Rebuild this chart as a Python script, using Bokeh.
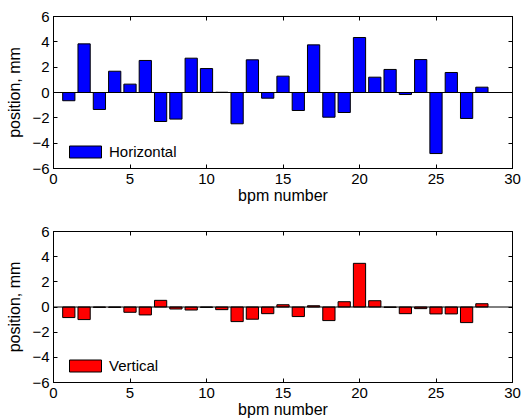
from bokeh.plotting import figure
from bokeh.layouts import column
from bokeh.models import (Range1d, FixedTicker, LinearAxis, Span, Legend, LegendItem,
                          CustomJSTickFormatter, ColumnDataSource)
from bokeh.embed import file_html
from bokeh.resources import INLINE

bpm = list(range(1, 29))
horizontal = [-0.65, 3.84, -1.34, 1.68, 0.66, 2.53, -2.29, -2.10, 2.71, 1.89,
              0.02, -2.47, 2.58, -0.45, 1.29, -1.42, 3.76, -1.95, -1.58, 4.34,
              1.21, 1.82, -0.16, 2.60, -4.82, 1.58, -2.05, 0.42]
vertical = [-0.84, -1.00, -0.03, -0.03, -0.42, -0.63, 0.53, -0.16, -0.24, -0.03,
            -0.21, -1.16, -0.97, -0.53, 0.18, -0.76, 0.10, -1.08, 0.42, 3.47,
            0.50, -0.03, -0.53, -0.13, -0.55, -0.55, -1.24, 0.26]
x_ticks = [0, 5, 10, 15, 20, 25, 30]
y_ticks = [-6, -4, -2, 0, 2, 4, 6]

FONT = "Liberation Sans"


def make_panel(values, color, name, height, border_top, border_bottom):
    p = figure(width=532, height=height, output_backend="svg", toolbar_location=None,
               x_range=Range1d(0, 30), y_range=Range1d(-6, 6),
               min_border_left=53, min_border_right=20,
               min_border_top=border_top, min_border_bottom=border_bottom)
    p.xgrid.visible = False
    p.ygrid.visible = False
    p.outline_line_color = "black"
    p.outline_line_width = 1
    p.background_fill_color = "white"

    src = ColumnDataSource(dict(x=bpm, top=values))
    r = p.vbar(x="x", top="top", bottom=0, width=0.8, source=src,
               fill_color=color, line_color="black", line_width=1)
    p.add_layout(Span(location=0, dimension="width", line_color="black", line_width=1))

    for ax in (p.xaxis[0], p.yaxis[0]):
        ax.major_tick_in = 4
        ax.major_tick_out = 0
        ax.minor_tick_in = 0
        ax.minor_tick_out = 0
        ax.axis_line_color = "black"
        ax.major_label_text_font = FONT
        ax.major_label_text_font_size = "15px"
        ax.major_label_text_color = "black"
        ax.axis_label_text_font = FONT
        ax.axis_label_text_font_size = "16px"
        ax.axis_label_text_font_style = "normal"
        ax.axis_label_text_color = "black"
    p.xaxis[0].major_label_standoff = 5
    p.yaxis[0].major_label_standoff = 4
    p.xaxis[0].ticker = FixedTicker(ticks=x_ticks)
    p.yaxis[0].ticker = FixedTicker(ticks=y_ticks)
    p.yaxis[0].formatter = CustomJSTickFormatter(code="return String(tick).replace('-', '\u2212');")
    p.xaxis[0].axis_label = "bpm number"
    p.yaxis[0].axis_label = "position, mm"
    p.xaxis[0].axis_label_standoff = 0
    p.yaxis[0].axis_label_standoff = 6

    blank = "return '';"
    top_ax = LinearAxis(ticker=FixedTicker(ticks=x_ticks),
                        formatter=CustomJSTickFormatter(code=blank),
                        major_tick_in=4, major_tick_out=0, minor_tick_in=0, minor_tick_out=0,
                        major_label_standoff=0)
    right_ax = LinearAxis(ticker=FixedTicker(ticks=y_ticks),
                          formatter=CustomJSTickFormatter(code=blank),
                          major_tick_in=4, major_tick_out=0, minor_tick_in=0, minor_tick_out=0,
                          major_label_standoff=0)
    p.add_layout(top_ax, "above")
    p.add_layout(right_ax, "right")

    legend = Legend(items=[LegendItem(label=name, renderers=[r])],
                    location=(12, 8), padding=2, margin=0,
                    glyph_width=40, glyph_height=15,
                    label_text_font=FONT, label_text_font_size="15px",
                    label_text_color="black",
                    label_standoff=4,
                    border_line_color=None, background_fill_alpha=0.0)
    p.add_layout(legend, "center")
    return p


p1 = make_panel(horizontal, "#0000FF", "Horizontal", 208, 16, 40)
p2 = make_panel(vertical, "#FF0000", "Vertical", 212, 23, 37)
layout = column(p1, p2, spacing=0)

open("out.html", "w").write(file_html(layout, INLINE))
